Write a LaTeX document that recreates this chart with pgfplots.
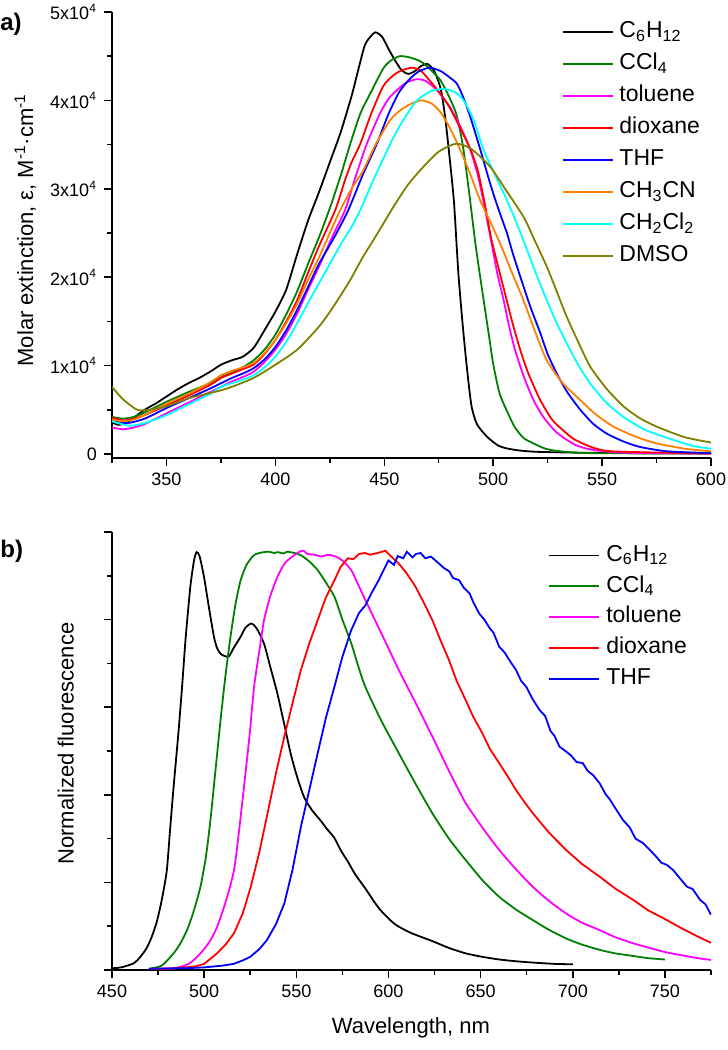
\documentclass[border=0pt]{standalone}
\usepackage{fontspec}
\setmainfont{Liberation Sans}
\usepackage{pgfplots}
\pgfplotsset{compat=1.18}
\definecolor{cgreen}{RGB}{0,128,0}
\definecolor{corange}{RGB}{255,128,0}
\definecolor{colive}{RGB}{128,128,0}
\definecolor{ccyan}{RGB}{0,255,255}
\definecolor{cmag}{RGB}{255,0,255}

\pgfplotsset{
  spec/.style={
    scale only axis, width=299.5pt,
    axis lines*=left, axis line style={line width=0.75pt},
    tick align=outside, major tick length=4pt, minor tick length=2.5pt,
    tick style={line width=0.75pt, black},
    every tick label/.append style={font=\fontsize{9}{10}\selectfont},
    /pgf/number format/assume math mode=true,
    label style={font=\fontsize{11}{13}\selectfont},
    every axis plot/.append style={line width=0.9pt},
    legend style={draw=none, fill=none, font=\fontsize{11.5}{13}\selectfont,
      inner sep=0pt, column sep=3pt,
      nodes={inner sep=0pt, text height=9pt, text depth=3.2pt}},
    legend cell align=left,
    legend image code/.code={\draw[#1] (0pt,0pt) -- (25pt,0pt);},
  },
}

\begin{document}
\begin{tikzpicture}
\useasboundingbox (0,0) rectangle (364pt,525pt);

% ---------- a) absorption ----------
\begin{axis}[spec,
  at={(56pt,296pt)}, anchor=south west, height=223pt,
  xmin=325, xmax=600, ymin=-0.045, ymax=5,
  xtick={350,400,...,600}, minor xtick={325,375,...,575},
  ytick={0,1,2,3,4,5}, minor ytick={0.5,1.5,2.5,3.5,4.5},
  yticklabels={0,1x10\textsuperscript{4},2x10\textsuperscript{4},3x10\textsuperscript{4},4x10\textsuperscript{4},5x10\textsuperscript{4}},
  ylabel={Molar extinction, ε, M\textsuperscript{-1}·cm\textsuperscript{-1}},
  ylabel style={at={(axis description cs:-0.145,0.511)}, anchor=center},
  legend style={at={(axis description cs:0.750,0.984)}, anchor=north west, row sep=3.8pt},
  every axis plot/.append style={smooth, tension=0.4},
]
\addplot[black] coordinates {
 (325,0.36)(328,0.33)(332,0.36)(340,0.50)(345,0.57)(350,0.65)(355,0.73)(360,0.80)(365,0.86)
 (370,0.93)(375,1.01)(380,1.06)(385,1.10)(390,1.20)(395,1.40)(400,1.61)(405,1.86)(410,2.26)
 (415,2.64)(420,2.96)(425,3.30)(430,3.64)(435,4.05)(438,4.34)(441,4.62)(443.6,4.72)(446,4.77)
 (449,4.72)(452,4.58)(455,4.45)(458,4.34)(461,4.30)(464,4.33)(467,4.39)(470,4.41)(473,4.33)
 (476,4.12)(478,3.80)(480,3.35)(482,2.85)(484,2.05)(486,1.46)(488,0.96)(490,0.55)(492.5,0.34)
 (497,0.20)(502,0.10)(506,0.065)(512,0.04)(520,0.025)(540,0.015)(570,0.01)(600,0.01)};
\addlegendentry{C\textsubscript{6}H\textsubscript{12}}
\addplot[cgreen] coordinates {
 (325,0.42)(330,0.40)(335,0.42)(340,0.47)(350,0.59)(360,0.70)(370,0.80)(375,0.87)(380,0.92)
 (385,0.98)(390,1.06)(395,1.18)(400,1.35)(405,1.58)(410,1.84)(415,2.15)(420,2.45)(425,2.78)
 (430,3.15)(434.4,3.51)(439,3.85)(443.6,4.08)(449.5,4.36)(453,4.45)(457,4.50)(461,4.49)
 (465,4.46)(468,4.42)(472,4.33)(475.7,4.23)(479,4.08)(483,3.85)(486,3.50)(489,2.95)(492,2.35)
 (495.5,1.76)(498,1.35)(500,1.02)(503,0.68)(507,0.45)(510,0.30)(514,0.18)(518.5,0.12)
 (524,0.06)(531,0.03)(545,0.01)(600,0.005)};
\addlegendentry{CCl\textsubscript{4}}
\addplot[cmag] coordinates {
 (325,0.30)(330,0.28)(335,0.30)(340,0.34)(350,0.46)(360,0.58)(370,0.70)(375,0.76)(380,0.82)
 (385,0.87)(390,0.93)(395,1.04)(400,1.18)(405,1.36)(410,1.59)(415,1.86)(420,2.12)(426,2.45)
 (432,2.76)(437,3.15)(442,3.51)(448,3.85)(452,4.02)(456,4.12)(460,4.20)(465,4.24)(469,4.22)
 (474,4.12)(480,3.93)(485,3.70)(489.4,3.45)(493,3.15)(496,2.80)(499,2.42)(502,2.03)(504.8,1.74)
 (507,1.48)(510,1.18)(514,0.88)(518.5,0.61)(523,0.42)(528,0.27)(532,0.19)(538,0.10)(545,0.05)
 (560,0.015)(600,0.005)};
\addlegendentry{toluene}
\addplot[red] coordinates {
 (325,0.41)(330,0.38)(335,0.40)(340,0.44)(350,0.55)(360,0.66)(370,0.78)(375,0.86)(380,0.91)
 (385,0.96)(390,1.01)(395,1.13)(400,1.29)(405,1.50)(410,1.74)(415,2.05)(420,2.35)(427.5,2.76)
 (432,3.10)(435,3.30)(439,3.51)(444,3.85)(449.5,4.16)(454,4.28)(458,4.34)(463,4.37)(467,4.33)
 (471,4.22)(475,4.10)(480,3.92)(486,3.63)(490,3.42)(493,3.20)(496,2.85)(499,2.45)(503,2.05)
 (506,1.76)(509,1.47)(512.4,1.18)(516,0.92)(521.6,0.61)(527,0.39)(532,0.27)(537,0.17)(545,0.08)
 (555,0.03)(600,0.005)};
\addlegendentry{dioxane}
\addplot[blue] coordinates {
 (325,0.38)(332,0.35)(340,0.40)(350,0.52)(360,0.63)(370,0.74)(375,0.80)(380,0.86)(385,0.91)
 (390,0.97)(395,1.07)(400,1.21)(405,1.40)(410,1.63)(415,1.89)(420,2.15)(427,2.45)(433.5,2.76)
 (440,3.15)(446.6,3.51)(452,3.85)(457,4.10)(462,4.25)(466,4.33)(471,4.37)(476,4.33)(480,4.26)
 (483.3,4.19)(486,4.05)(489.4,3.82)(494,3.45)(498.6,3.06)(502,2.80)(506.3,2.50)(509,2.27)
 (512.4,2.01)(517,1.67)(521.6,1.37)(525,1.13)(529.2,0.91)(534,0.70)(540,0.50)(546,0.34)
 (552.2,0.23)(560,0.14)(567.4,0.08)(580,0.03)(600,0.01)};
\addlegendentry{THF}
\addplot[corange] coordinates {
 (325,0.39)(330,0.37)(335,0.39)(340,0.44)(350,0.57)(360,0.68)(370,0.81)(375,0.89)(380,0.94)
 (385,0.98)(390,1.03)(395,1.14)(400,1.29)(405,1.48)(410,1.70)(415,1.97)(420,2.22)(425,2.50)
 (429.8,2.76)(435,3.00)(440.4,3.21)(446,3.50)(452.8,3.78)(458,3.90)(463,3.97)(467.3,4.00)
 (472,3.96)(476,3.86)(480.3,3.68)(484.9,3.44)(489.4,3.17)(494,2.87)(498.6,2.63)(503.2,2.38)
 (508.5,2.06)(513.9,1.74)(519,1.40)(524.6,1.06)(532,0.80)(540,0.61)(547,0.45)(555.2,0.31)
 (565,0.20)(575,0.12)(588,0.06)(600,0.03)};
\addlegendentry{CH\textsubscript{3}CN}
\addplot[ccyan] coordinates {
 (325,0.37)(333,0.32)(340,0.35)(350,0.44)(360,0.56)(370,0.68)(375,0.76)(380,0.80)(385,0.84)
 (390,0.89)(395,0.98)(400,1.10)(405,1.27)(410,1.48)(415,1.71)(420,1.93)(425,2.15)(430,2.37)
 (435,2.57)(439,2.76)(445,3.10)(452.8,3.51)(458,3.75)(465,4.00)(471,4.10)(476.5,4.13)(482,4.10)
 (486.4,4.00)(491,3.78)(495.6,3.44)(501,3.15)(506.3,2.87)(511,2.60)(515.5,2.31)(520,2.02)
 (524.6,1.74)(529,1.49)(533.8,1.25)(539,1.01)(544.5,0.80)(552,0.58)(559.8,0.42)(570,0.27)
 (582.7,0.16)(592,0.09)(600,0.06)};
\addlegendentry{CH\textsubscript{2}Cl\textsubscript{2}}
\addplot[colive] coordinates {
 (325,0.76)(330,0.62)(336.6,0.50)(342,0.50)(350,0.54)(360,0.63)(370,0.69)(375,0.72)(380,0.76)
 (390,0.86)(400,1.01)(410,1.18)(420,1.44)(427,1.68)(434.4,1.97)(440,2.22)(447,2.50)(454.3,2.80)
 (461,3.05)(468,3.25)(475,3.42)(483,3.51)(490,3.45)(498.6,3.25)(506,2.98)(514,2.68)(519,2.42)
 (524.6,2.12)(529,1.85)(533.8,1.55)(539,1.27)(544.5,0.99)(552,0.74)(559.8,0.54)(567,0.41)
 (575,0.31)(588,0.19)(600,0.13)};
\addlegendentry{DMSO}
\end{axis}

% ---------- b) fluorescence ----------
\begin{axis}[spec,
  at={(56pt,40pt)}, anchor=south west, height=219pt,
  xmin=450, xmax=775, ymin=0, ymax=1,
  xtick={450,500,...,750}, minor xtick={475,525,...,775},
  ytick={0,0.2,0.4,0.6,0.8,1}, minor ytick={0.1,0.3,0.5,0.7,0.9},
  yticklabels={,,,,,},
  xlabel={Wavelength, nm},
  xlabel style={at={(axis description cs:0.499,-0.132)}, anchor=center},
  ylabel={Normalized fluorescence},
  ylabel style={at={(axis description cs:-0.077,0.517)}, anchor=center},
  legend style={at={(axis description cs:0.728,0.975)}, anchor=north west, row sep=3.2pt},
]
\addplot[black, smooth, tension=0.4] coordinates {
 (450,0.004)(455,0.006)(461.6,0.015)(465,0.028)(468.8,0.05)(471.5,0.075)(474.3,0.11)(477,0.16)
 (479.7,0.226)(481.5,0.32)(483.4,0.417)(486,0.54)(488,0.646)(490,0.76)(492.5,0.875)(494.5,0.935)
 (495.9,0.954)(497.5,0.945)(499.9,0.898)(502.5,0.83)(505.3,0.761)(507,0.735)(508.9,0.722)
 (511,0.717)(513.4,0.716)(516,0.735)(519.8,0.761)(522.5,0.782)(525.6,0.791)(528.5,0.78)
 (532.5,0.745)(536,0.69)(539.8,0.630)(543.5,0.56)(547,0.493)(550.5,0.44)(554.3,0.394)
 (558.5,0.365)(563.4,0.340)(567,0.32)(570.6,0.302)(574.3,0.272)(577.9,0.248)(582,0.218)
 (587.3,0.187)(595,0.14)(603.4,0.105)(612,0.085)(623.8,0.066)(633,0.05)(641.9,0.038)(651,0.03)
 (660.1,0.024)(669,0.02)(678.3,0.017)(690,0.014)(700,0.013)};
\addlegendentry{C\textsubscript{6}H\textsubscript{12}}
\addplot[cgreen, smooth, tension=0.4] coordinates {
 (470,0.003)(477,0.01)(483.4,0.038)(487,0.06)(490.7,0.091)(494,0.13)(498,0.19)(501,0.26)
 (503.4,0.342)(506,0.45)(508.9,0.571)(511.5,0.67)(514.3,0.761)(517,0.835)(519.8,0.89)(523,0.925)
 (527,0.947)(531,0.953)(535,0.955)(538,0.952)(540,0.954)(543,0.951)(545,0.955)(549,0.952)
 (552.5,0.947)(557,0.933)(561.6,0.913)(566,0.885)(570.7,0.852)(575,0.80)(579.8,0.746)
 (583.5,0.695)(587.4,0.647)(596,0.57)(605.6,0.495)(614.7,0.425)(623.8,0.358)(632.8,0.30)
 (641.9,0.251)(651,0.205)(660.1,0.167)(669.2,0.138)(678.3,0.114)(687,0.092)(696.4,0.072)
 (705,0.058)(714.6,0.046)(723,0.038)(732.8,0.032)(741,0.027)(750,0.024)};
\addlegendentry{CCl\textsubscript{4}}
\addplot[cmag, smooth, tension=0.4] coordinates {
 (470,0.002)(485,0.005)(492,0.015)(498,0.038)(503,0.065)(507.1,0.099)(512,0.16)(516.2,0.228)
 (519,0.32)(521.6,0.418)(524.5,0.53)(527.1,0.647)(530,0.73)(532.5,0.799)(536,0.855)(539.8,0.898)
 (544,0.93)(548.9,0.947)(551.6,0.955)(554,0.957)(556,0.95)(560,0.948)(564,0.944)(567,0.948)
 (570.7,0.945)(575,0.935)(579.8,0.913)(583,0.885)(587.4,0.845)(596,0.77)(605.6,0.685)
 (614.7,0.61)(623.8,0.533)(632.8,0.455)(641.9,0.381)(651,0.325)(660.1,0.274)(669.2,0.23)
 (678.3,0.19)(687,0.158)(696.4,0.129)(705,0.108)(714.6,0.091)(723,0.075)(732.8,0.061)
 (742,0.05)(751,0.040)(760,0.033)(768,0.027)(775,0.023)};
\addlegendentry{toluene}
\addplot[red] coordinates {
 (470,0.002)(485,0.004)(495,0.008)(500,0.014)(507,0.038)(512,0.06)(516.2,0.084)(521,0.13)
 (525.3,0.19)(530,0.27)(534.4,0.358)(539,0.45)(543.5,0.533)(548,0.61)(552.5,0.685)(557,0.745)
 (561.6,0.799)(566,0.85)(570.7,0.89)(574,0.92)(577.9,0.94)(581,0.938)(584,0.95)(587.4,0.952)
 (590,0.948)(594,0.952)(598.3,0.957)(602,0.942)(605.6,0.928)(610,0.905)(614.7,0.875)(619,0.84)
 (623.8,0.799)(628,0.755)(632.8,0.708)(637,0.66)(641.9,0.616)(646,0.578)(651,0.54)(655,0.505)
 (660.1,0.472)(665,0.44)(669.2,0.411)(674,0.382)(678.3,0.358)(687,0.314)(696.4,0.274)(705,0.242)
 (714.6,0.213)(723,0.186)(732.8,0.160)(741,0.136)(751,0.114)(760,0.093)(768,0.076)(775,0.062)};
\addlegendentry{dioxane}
\addplot[blue] coordinates {
 (470,0.003)(490,0.004)(500,0.006)(510,0.010)(516,0.014)(521,0.022)(525,0.030)(530,0.048)
 (534,0.068)(539,0.105)(543.5,0.152)(548,0.23)(552.5,0.327)(557,0.41)(561.6,0.495)(566,0.575)
 (570.7,0.647)(575,0.715)(579.8,0.776)(584,0.815)(587.4,0.832)(591,0.862)(594.7,0.89)(597,0.91)
 (600,0.935)(603,0.925)(605,0.945)(608,0.94)(610,0.955)(613,0.942)(615,0.95)(617.4,0.952)
 (620,0.94)(623,0.944)(627.4,0.928)(630,0.918)(633,0.91)(635,0.895)(638.3,0.89)(641,0.872)
 (644,0.86)(646,0.84)(649.2,0.814)(652,0.80)(655,0.78)(657,0.77)(660.1,0.738)(663,0.725)
 (666,0.705)(669.2,0.685)(672,0.66)(675,0.645)(678,0.62)(681.9,0.594)(685,0.58)(688,0.545)
 (690,0.535)(692.8,0.51)(696,0.50)(699,0.49)(702,0.475)(705.5,0.472)(708,0.455)(711,0.445)
 (714.6,0.426)(718,0.40)(720,0.39)(723,0.37)(727.3,0.342)(731,0.325)(734,0.30)(738,0.29)
 (741.8,0.274)(745,0.26)(748,0.245)(751,0.24)(754.5,0.228)(758,0.21)(762,0.19)(765,0.185)
 (769.1,0.16)(772,0.15)(775,0.126)};
\addlegendentry{THF}
\end{axis}

\node[anchor=north west, font=\bfseries\fontsize{12}{14}\selectfont, inner sep=0pt] at (0pt,518.5pt) {a)};
\node[anchor=north west, font=\bfseries\fontsize{12}{14}\selectfont, inner sep=0pt] at (0pt,255pt) {b)};
\end{tikzpicture}
\end{document}
